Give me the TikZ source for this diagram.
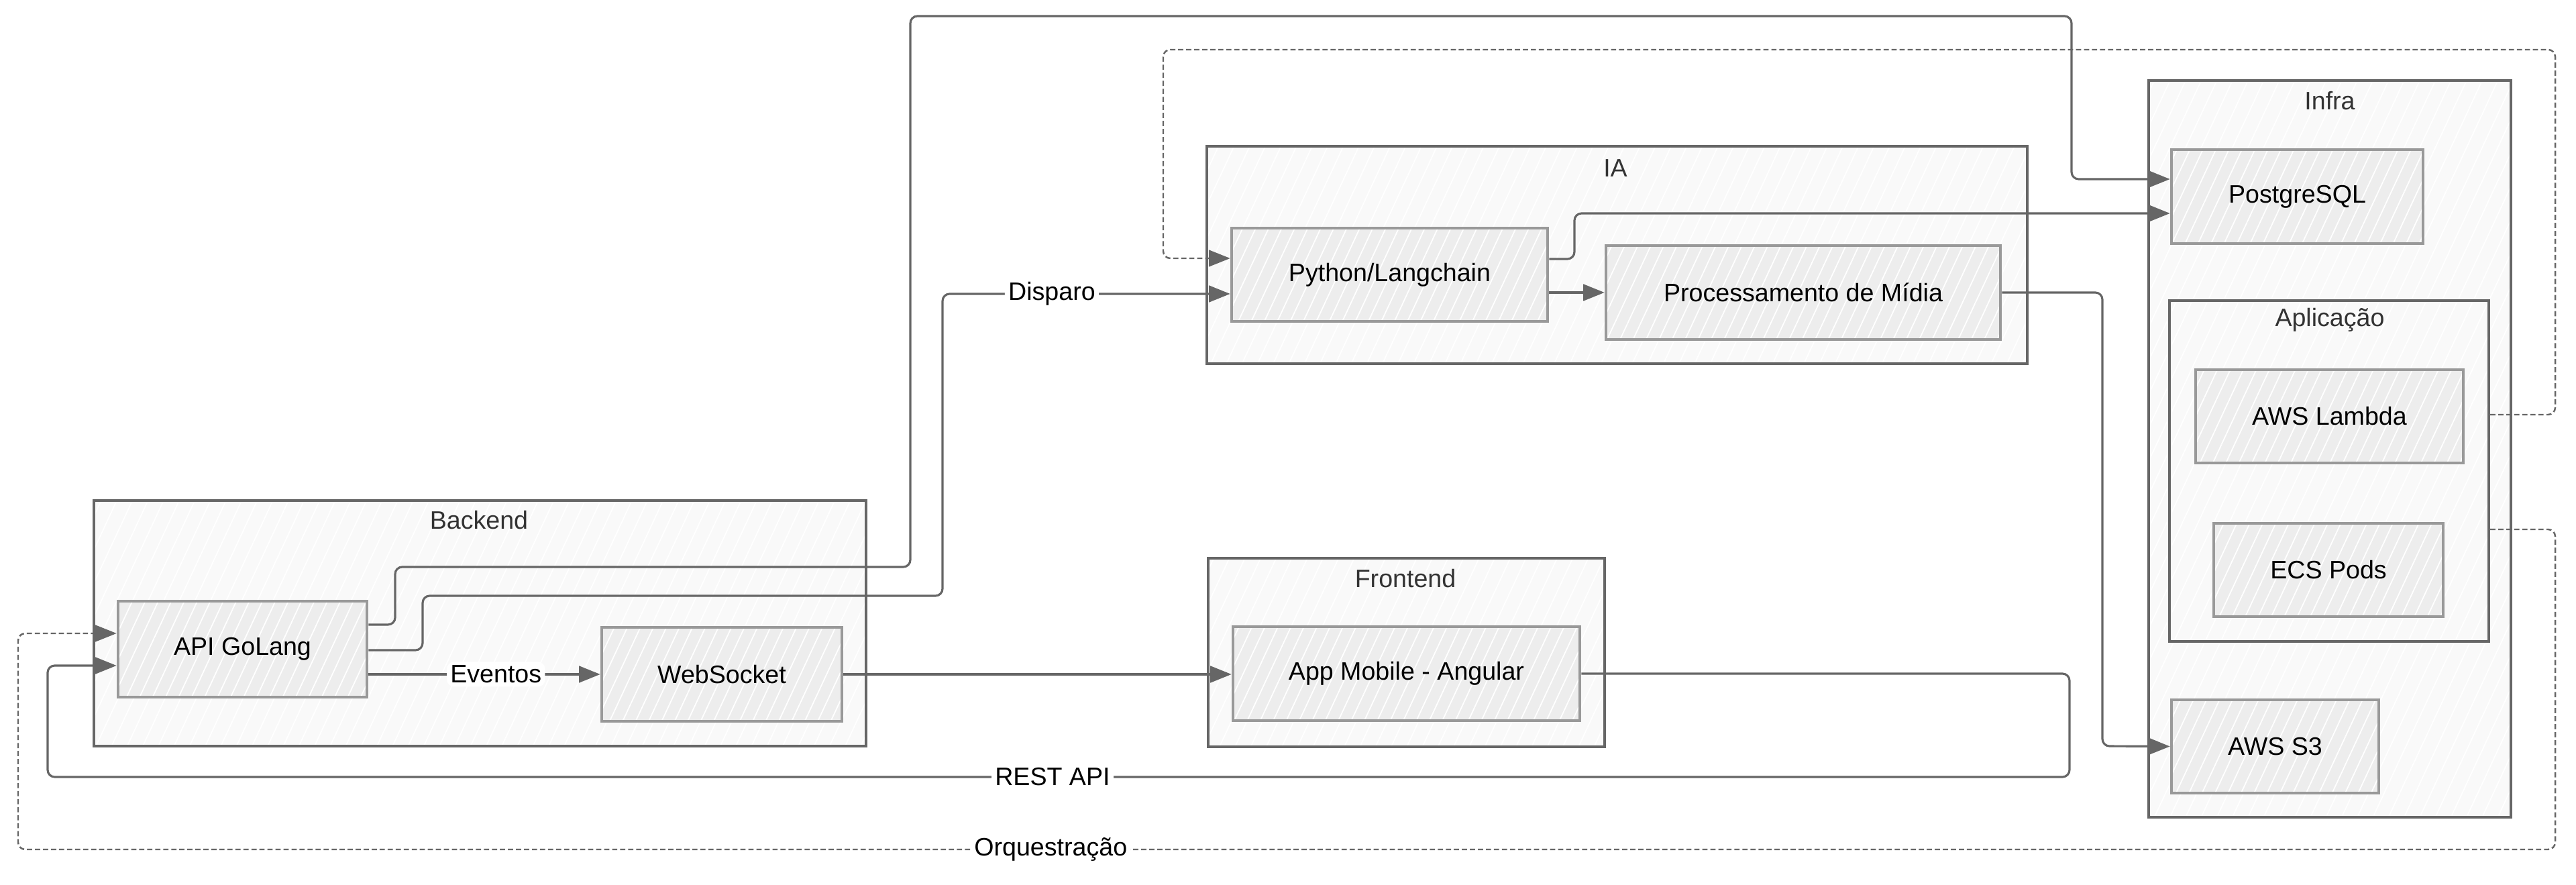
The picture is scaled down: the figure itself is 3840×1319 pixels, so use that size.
\documentclass[tikz,border=0pt]{standalone}
\usepackage{fontspec}
\setmainfont{Liberation Sans}
\usetikzlibrary{arrows.meta,fit,patterns.meta}
\definecolor{linec}{HTML}{666666}
\definecolor{contfill}{HTML}{F9F9F9}
\definecolor{boxfill}{HTML}{EDEDED}
\definecolor{boxdraw}{HTML}{999999}
\definecolor{labc}{HTML}{333333}
\begin{document}
\begin{tikzpicture}[x=0.1mm,y=-0.1mm,
  every node/.style={font=\fontsize{10.7}{12.5}\selectfont},
  container/.style={draw=linec, line width=1.2pt, inner sep=0pt,
    preaction={fill=contfill},
    preaction={pattern={Lines[angle=65,distance=6pt,line width=0.5pt]}, pattern color=white}},
  box/.style={draw=boxdraw, line width=1.3pt, inner sep=0pt, text=black,
    preaction={fill=boxfill},
    preaction={pattern={Lines[angle=65,distance=5pt,line width=0.5pt]}, pattern color=white}},
  clabel/.style={text=labc, inner sep=0pt},
  conn/.style={draw=linec, line width=0.9pt, rounded corners=3pt, -{Triangle[length=9pt,width=7pt]}},
  dconn/.style={conn, line width=0.7pt, dash pattern=on 2.2pt off 1.2pt},
  lbl/.style={fill=white, inner sep=1.5pt, text=black}]
\useasboundingbox (0,0) rectangle (3840,1319);
\fill[white] (0,0) rectangle (3840,1319);

% containers
\node[container, fit={(140,746)(1291,1112)}] (backend) {};
\node[container, fit={(1799,218)(3022,542)}] (ia) {};
\node[container, fit={(1801,832)(2392,1113)}] (frontend) {};
\node[container, fit={(3203,120)(3743,1218)}] (infra) {};
\node[container, fit={(3234,448)(3710,956)}] (aplic) {};

\node[clabel] (backendlbl) at (714,775) {Backend};
\node[clabel] (ialbl) at (2408,251) {IA};
\node[clabel] (frontendlbl) at (2095,862) {Frontend};
\node[clabel] (infralbl) at (3473,150) {Infra};
\node[clabel] (apliclbl) at (3473,477) {Aplicação};

% inner nodes
\node[box, minimum width=37.1mm, minimum height=14.3mm] (api) at (361.5,967.5) {API GoLang};
\node[box, minimum width=35.8mm, minimum height=14.0mm] (ws) at (1076,1005) {WebSocket};
\node[box, minimum width=47.1mm, minimum height=13.9mm] (py) at (2071.5,409.5) {Python/Langchain};
\node[box, minimum width=58.8mm, minimum height=14.0mm] (proc) at (2688,436) {Processamento de Mídia};
\node[box, minimum width=51.7mm, minimum height=14.0mm] (app) at (2096.5,1004) {App Mobile - Angular};
\node[box, minimum width=37.5mm, minimum height=14.0mm] (pg) at (3424.5,293) {PostgreSQL};
\node[box, minimum width=39.9mm, minimum height=13.9mm] (lambda) at (3472.5,620.5) {AWS Lambda};
\node[box, minimum width=34.2mm, minimum height=13.9mm] (ecs) at (3471,849.5) {ECS Pods};
\node[box, minimum width=30.9mm, minimum height=13.9mm] (s3) at (3391.5,1112.5) {AWS S3};

% connectors
\draw[conn] (api.east |- 0,931) -- (589,931) -- (589,845) -- (1357,845) -- (1357,24) -- (3088,24) -- (3088,267) -- (pg.west |- 0,267);
\draw[conn] (api.east |- 0,969) -- (630,969) -- (630,888) -- (1405,888) -- (1405,438) -- node[lbl,pos=0.38]{Disparo} (py.west |- 0,438);
\draw[conn] (api.east |- ws.west) -- node[lbl,pos=0.55]{Eventos} (ws.west);
\draw[conn] (ws.east) -- (app.west |- ws.east);
\draw[conn] (app.east) -- (3085,1004) -- (3085,1158) -- node[lbl,pos=0.503]{REST API} (71,1158) -- (71,992) -- (api.west |- 0,992);
\draw[conn] (py.east |- proc.west) -- (proc.west);
\draw[conn] (py.east |- 0,386) -- (2347,386) -- (2347,318) -- (pg.west |- 0,318);
\draw[conn] (proc.east) -- (3134,436) -- (3134,1112) -- (s3.west);
\draw[dconn] (aplic.east |- 0,618) -- (3809,618) -- (3809,74) -- (1734,74) -- (1734,385) -- (py.west |- 0,385);
\draw[dconn] (aplic.east |- 0,789) -- (3809,789) -- (3809,1266) -- node[lbl,pos=0.593]{Orquestração} (27,1266) -- (27,944) -- (api.west |- 0,944);
\end{tikzpicture}
\end{document}
